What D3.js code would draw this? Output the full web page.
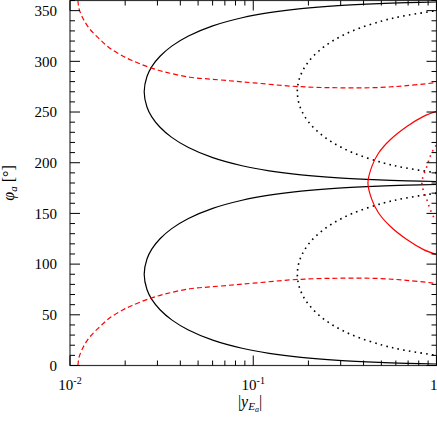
<!DOCTYPE html>
<html lang="en">
<head>
    <meta charset="UTF-8">
    <title>phi_a vs |y_Ea|</title>
    <script src="https://cdnjs.cloudflare.com/ajax/libs/d3/7.8.5/d3.min.js"></script>
    <style>
        body { margin: 0; background: #fff; }
        svg { display: block; }
        text { font-family: "Liberation Serif", "DejaVu Serif", serif; fill: #000; }
    </style>
</head>
<body>
    <svg id="chart" width="437" height="421"></svg>

    <script>
        // tick values and labels
        const xMajor = [0.01, 0.1, 1];
        const xMajorLabels = [["10", "-2"], ["10", "-1"], ["1", ""]];
        const yMajor = [0, 50, 100, 150, 200, 250, 300, 350];

        // curves: [|y_Ea|, phi_a in degrees]
        const blackSolidUpper = [
            [1.0, 181.5], [0.7, 182.1], [0.486, 183], [0.291, 185], [0.1825, 188], [0.1222, 192],
            [0.0869, 197], [0.0601, 205], [0.0443, 215], [0.0359, 225], [0.031, 235], [0.028, 245],
            [0.0263, 255], [0.0254, 270], [0.0263, 285], [0.028, 295], [0.031, 305], [0.0359, 315],
            [0.0443, 325], [0.0601, 335], [0.0869, 343], [0.1222, 348], [0.1825, 352], [0.291, 355],
            [0.486, 357], [0.7, 357.9], [1.0, 358.5]
        ];
        const blackSolidLower = [
            [1.0, 178.5], [0.7, 177.9], [0.486, 177], [0.291, 175], [0.1825, 172], [0.1222, 168],
            [0.0869, 163], [0.0601, 155], [0.0443, 145], [0.0359, 135], [0.031, 125], [0.028, 115],
            [0.0263, 105], [0.0254, 90], [0.0263, 75], [0.028, 65], [0.031, 55], [0.0359, 45],
            [0.0443, 35], [0.0601, 25], [0.0869, 17], [0.1222, 12], [0.1825, 8], [0.291, 5],
            [0.486, 3], [0.7, 2.1], [1.0, 1.5]
        ];
        const blackDotUpper = [
            [1.0, 190], [0.672, 195], [0.509, 200], [0.348, 210], [0.2707, 220], [0.2272, 230],
            [0.2009, 240], [0.1852, 250], [0.1767, 260], [0.174, 270], [0.1767, 280], [0.1852, 290],
            [0.2009, 300], [0.2272, 310], [0.2707, 320], [0.348, 330], [0.509, 340], [0.672, 345], [1.0, 350]
        ];
        const blackDotLower = [
            [1.0, 170], [0.672, 165], [0.509, 160], [0.348, 150], [0.2707, 140], [0.2272, 130],
            [0.2009, 120], [0.1852, 110], [0.1767, 100], [0.174, 90], [0.1767, 80], [0.1852, 70],
            [0.2009, 60], [0.2272, 50], [0.2707, 40], [0.348, 30], [0.509, 20], [0.672, 15], [1.0, 10]
        ];
        const redDashUpper = [
            [0.01105, 360], [0.0112, 352], [0.0118, 342], [0.0128, 332], [0.0145, 322], [0.0165, 313],
            [0.0195, 305], [0.0217, 301], [0.0262, 295], [0.033, 289.5], [0.0452, 284.3], [0.06, 282.3],
            [0.08, 280.3], [0.1, 278.8], [0.159, 275.6], [0.217, 274.4], [0.3, 273.9], [0.483, 274.2],
            [0.687, 276], [1.0, 279]
        ];
        const redDashLower = [
            [0.01105, 0], [0.0112, 8], [0.0118, 18], [0.0128, 28], [0.0145, 38], [0.0165, 47],
            [0.0195, 55], [0.0217, 59], [0.0262, 65], [0.033, 70.5], [0.0452, 75.7], [0.06, 77.7],
            [0.08, 79.7], [0.1, 81.2], [0.159, 84.4], [0.217, 85.6], [0.3, 86.1], [0.483, 85.8],
            [0.687, 84], [1.0, 81]
        ];
        const redSolid = [
            [1.0, 250.6], [0.85, 245.7], [0.689, 235.8], [0.559, 222.7], [0.483, 209.6], [0.444, 196.4],
            [0.4225, 180], [0.444, 163.6], [0.483, 150.4], [0.559, 137.3], [0.689, 124.2], [0.85, 114.3],
            [1.0, 109.4]
        ];
        const redDot = [
            [1.0, 217], [0.984, 216.1], [0.924, 206.2], [0.886, 196.4], [0.832, 180],
            [0.886, 163.6], [0.924, 153.8], [0.984, 143.9], [1.0, 143]
        ];

        const margin = { left: 70, right: 436.5, top: 0.5, bottom: 365.5 };
        const svg = d3.select("#chart");

        const x = d3.scaleLog().domain([0.01, 1]).range([margin.left, margin.right]);
        const y = d3.scaleLinear().domain([0, 360]).range([margin.bottom, margin.top]);

        svg.append("defs").append("clipPath").attr("id", "plot-clip")
            .append("rect")
            .attr("x", margin.left).attr("y", margin.top)
            .attr("width", margin.right - margin.left)
            .attr("height", margin.bottom - margin.top);

        const line = d3.line()
            .x(d => x(d[0]))
            .y(d => y(d[1]))
            .curve(d3.curveCatmullRom.alpha(0.5));

        const curves = [
            { data: blackSolidUpper, color: "#000", dash: null, width: 1.2 },
            { data: blackSolidLower, color: "#000", dash: null, width: 1.2 },
            { data: blackDotUpper, color: "#000", dash: "1.6,4.2", width: 1.6 },
            { data: blackDotLower, color: "#000", dash: "1.6,4.2", width: 1.6 },
            { data: redDashUpper, color: "#f00", dash: "5,3", width: 1.2 },
            { data: redDashLower, color: "#f00", dash: "5,3", width: 1.2 },
            { data: redSolid, color: "#f00", dash: null, width: 1.2 },
            { data: redDot, color: "#f00", dash: "1.6,4.2", width: 1.6 }
        ];

        svg.append("g")
            .attr("clip-path", "url(#plot-clip)")
            .selectAll("path")
            .data(curves)
            .join("path")
            .attr("d", d => line(d.data))
            .attr("fill", "none")
            .attr("stroke", d => d.color)
            .attr("stroke-width", d => d.width)
            .attr("stroke-dasharray", d => d.dash);

        // frame
        svg.append("rect")
            .attr("x", margin.left).attr("y", margin.top)
            .attr("width", margin.right - margin.left)
            .attr("height", margin.bottom - margin.top)
            .attr("fill", "none")
            .attr("stroke", "#333")
            .attr("stroke-width", 1.2);

        // ticks pointing inwards, on all four sides
        const xMinor = x.ticks().filter(v => !xMajor.includes(v));
        const yMinor = d3.range(0, 361, 10).filter(v => v % 50 !== 0);
        const ticks = svg.append("g").attr("stroke", "#000").attr("stroke-width", 1);

        function xTick(v, len) {
            ticks.append("line").attr("x1", x(v)).attr("x2", x(v))
                .attr("y1", margin.bottom).attr("y2", margin.bottom - len);
            ticks.append("line").attr("x1", x(v)).attr("x2", x(v))
                .attr("y1", margin.top).attr("y2", margin.top + len);
        }
        function yTick(v, len) {
            ticks.append("line").attr("y1", y(v)).attr("y2", y(v))
                .attr("x1", margin.left).attr("x2", margin.left + len);
            ticks.append("line").attr("y1", y(v)).attr("y2", y(v))
                .attr("x1", margin.right).attr("x2", margin.right - len);
        }
        xMajor.forEach(v => xTick(v, 10));
        xMinor.forEach(v => xTick(v, 5));
        yMajor.forEach(v => yTick(v, 10));
        yMinor.forEach(v => yTick(v, 5));

        // tick labels
        svg.append("g").selectAll("text")
            .data(yMajor)
            .join("text")
            .attr("x", margin.left - 13)
            .attr("y", d => y(d))
            .attr("dy", "0.35em")
            .attr("text-anchor", "end")
            .attr("font-size", 15)
            .text(d => d);

        const xl = svg.append("g").selectAll("text")
            .data(xMajor)
            .join("text")
            .attr("x", (d, i) => i === 2 ? x(d) + 1 : x(d))
            .attr("y", 390)
            .attr("text-anchor", (d, i) => i === 2 ? "end" : "middle")
            .attr("font-size", 15);
        xl.append("tspan").text((d, i) => xMajorLabels[i][0]);
        xl.append("tspan")
            .attr("dy", -6)
            .attr("font-size", 10)
            .text((d, i) => xMajorLabels[i][1]);

        // axis titles
        const xt = svg.append("text")
            .attr("x", 250)
            .attr("y", 407)
            .attr("text-anchor", "middle")
            .attr("font-size", 16);
        xt.append("tspan").text("|");
        xt.append("tspan").attr("font-style", "italic").text("y");
        xt.append("tspan").attr("font-style", "italic").attr("font-size", 11).attr("dy", 3).text("E");
        xt.append("tspan").attr("font-style", "italic").attr("font-size", 8).attr("dy", 2).text("a");
        xt.append("tspan").attr("dy", -5).text("|");

        const yt = svg.append("text")
            .attr("transform", `translate(14, ${(margin.top + margin.bottom) / 2}) rotate(-90)`)
            .attr("text-anchor", "middle")
            .attr("font-size", 16);
        yt.append("tspan").attr("font-style", "italic").text("φ");
        yt.append("tspan").attr("font-style", "italic").attr("font-size", 11).attr("dy", 3).text("a");
        yt.append("tspan").attr("dy", -3).text(" [°]");
    </script>
</body>
</html>
